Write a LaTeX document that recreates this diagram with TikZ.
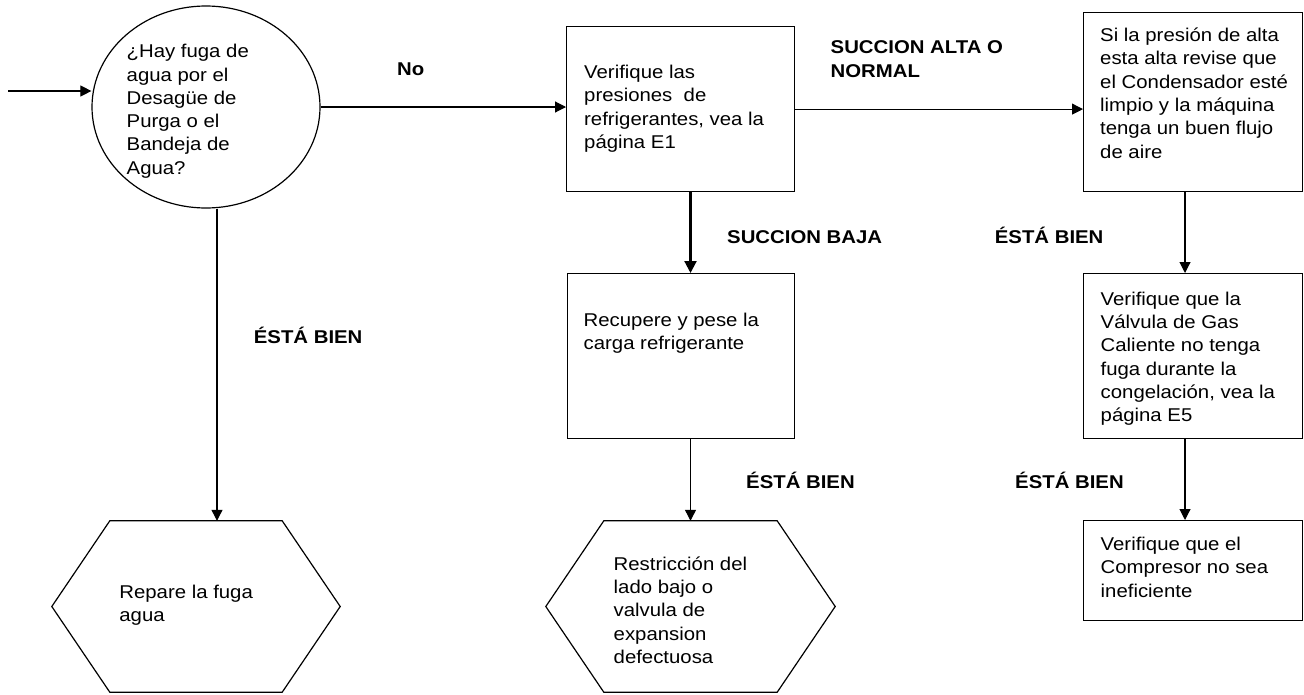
\documentclass[tikz,border=0pt]{standalone}
\usepackage{fontspec}
\setmainfont{Liberation Sans}[FakeStretch=1.1]
\usetikzlibrary{shapes.geometric,arrows.meta,calc}

% hexagon outline drawn inside a named frame node
\newcommand\drawhexagon[1]{%
  \draw[line width=1.2pt]
    ($(#1.north west)+(58,0)$) -- ($(#1.north east)+(-58,0)$) -- (#1.east)
    -- ($(#1.south east)+(-58,0)$) -- ($(#1.south west)+(58,0)$) -- (#1.west) -- cycle;}

\begin{document}
\begin{tikzpicture}[x=1pt,y=-1pt,
  box/.style={draw, line width=1.2pt, rectangle, inner sep=0pt, anchor=north west},
  frame/.style={rectangle, inner sep=0pt},
  txt/.style={font=\fontsize{18.5}{23.3}\selectfont, align=left, inner sep=0pt, anchor=north west},
  lbl/.style={font=\fontsize{18.5}{23.3}\selectfont\bfseries, inner sep=0pt, anchor=base west},
  conn/.style={line width=1.1pt, -{Triangle[length=11pt,width=11pt]}},
  thickconn/.style={line width=2.2pt, -{Triangle[length=12pt,width=12pt]}}]

\fill[white] (0,0) rectangle (1304,694);
\useasboundingbox (0,0) rectangle (1304,694);

% shapes
\node[draw, ellipse, line width=1.2pt, minimum width=228pt, minimum height=202pt, inner sep=0pt] (q) at (206,107) {};
\node[box, minimum width=228pt, minimum height=165pt] (box1) at (566,26) {};
\node[box, minimum width=219pt, minimum height=179pt] (box2) at (1083,12) {};
\node[box, minimum width=227pt, minimum height=165pt] (recup) at (567,273) {};
\node[box, minimum width=219pt, minimum height=165pt] (box3) at (1083,273) {};
\node[box, minimum width=219pt, minimum height=100pt] (box4) at (1083,520) {};
\node[frame, minimum width=288pt, minimum height=171pt] (hex1) at (196,606.5) {};
\node[frame, minimum width=289pt, minimum height=171pt] (hex2) at (690.5,606.5) {};
\drawhexagon{hex1}
\drawhexagon{hex2}

% texts
\node[txt] (tq) at (126.5,44.1) {¿Hay fuga de\\agua por el\\Desagüe de\\Purga o el\\Bandeja de\\Agua?};
\node[txt] (t1) at (584,64.8) {Verifique las\\presiones~ de\\refrigerantes, vea la\\página E1};
\node[txt] (t2) at (1100,27.7) {Si la presión de alta\\esta alta revise que\\el Condensador esté\\limpio y la máquina\\tenga un buen flujo\\de aire};
\node[txt] (t3) at (583.5,312.7) {Recupere y pese la\\carga refrigerante};
\node[txt] (t4) at (1100.5,291.5) {Verifique que la\\Válvula de Gas\\Caliente no tenga\\fuga durante la\\congelación, vea la\\página E5};
\node[txt] (t5) at (1100.5,536.8) {Verifique que el\\Compresor no sea\\ineficiente};
\node[txt] (t6) at (119.2,584.8) {Repare la fuga\\agua};
\node[txt] (t7) at (613.5,556.4) {Restricción del\\lado bajo o\\valvula de\\expansion\\defectuosa};

% connector labels
\node[lbl] (lno) at (397,75.6) {No};
\node[txt, font=\fontsize{18.5}{23.3}\selectfont\bfseries] (lalta) at (830.5,40.8) {SUCCION ALTA O\\NORMAL};
\node[lbl] (lbaja) at (727,243.6) {SUCCION BAJA};
\node[lbl] (lok1) at (994.7,243.6) {ÉSTÁ BIEN};
\node[lbl] (lok2) at (253.7,343.6) {ÉSTÁ BIEN};
\node[lbl] (lok3) at (746,488) {ÉSTÁ BIEN};
\node[lbl] (lok4) at (1015,488) {ÉSTÁ BIEN};

% connectors
\coordinate (entry) at (8,91);
\coordinate (lx) at (217,0);
\coordinate (rx) at (1185,0);
\draw[conn] (entry) -- (entry -| q.west);
\draw[conn] (q.east) -- (q.east -| box1.west);
\draw[conn] (box1.east) -- (box1.east -| box2.west);
\draw[thickconn] (box1.south -| hex2) -- (recup.north -| hex2);
\draw[conn] (recup.south -| hex2) -- (hex2.north);
\draw[conn] (box2.south -| rx) -- (box3.north -| rx);
\draw[conn] (box3.south -| rx) -- (box4.north -| rx);
\draw[conn] (q.south -| lx) -- (hex1.north -| lx);
\end{tikzpicture}
\end{document}
